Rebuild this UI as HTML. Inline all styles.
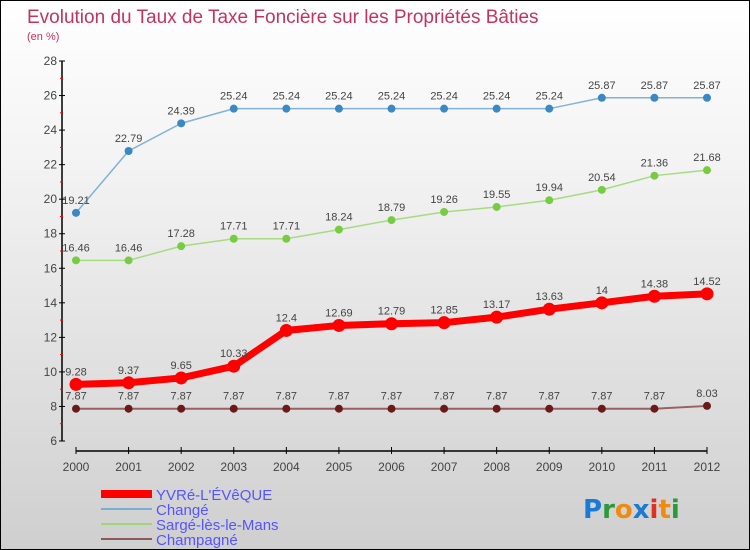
<!DOCTYPE html>
<html><head><meta charset="utf-8"><style>
body{margin:0}
#c{position:relative;width:748px;height:548px;border:1px solid #000;background:linear-gradient(#fff,#f3f3f3 30%,#cfcfcf);font-family:"Liberation Sans",sans-serif;overflow:hidden}
</style></head><body>
<div id="c">
<svg width="748" height="548" id="s">
<text x="26" y="22" font-size="19" fill="#c4335f">Evolution du Taux de Taxe Foncière sur les Propriétés Bâties</text>
<text x="26" y="39" font-size="11" fill="#c4335f">(en %)</text>
<g id="ax"></g><g id="ser"></g>
<g font-size="15" fill="#5555ff">
<rect x="100" y="489" width="51" height="8" fill="#f00"/>
<text x="155" y="499">YVRé-L'ÉVêQUE</text>
<rect x="100" y="507" width="51" height="2" fill="#7aaed0"/>
<text x="155" y="514">Changé</text>
<rect x="100" y="522" width="51" height="2" fill="#9ed67a"/>
<text x="155" y="529">Sargé-lès-le-Mans</text>
<rect x="100" y="537" width="51" height="2" fill="#8c5a5a"/>
<text x="155" y="544">Champagné</text>
</g>
<text x="582" y="517" font-size="26" font-family="'DejaVu Sans',sans-serif" font-weight="bold"><tspan fill="#1a7ad4">P</tspan><tspan fill="#2a9a3a">r</tspan><tspan fill="#f08a10">o</tspan><tspan fill="#1a7ad4">x</tspan><tspan fill="#e03020">i</tspan><tspan fill="#f08a10">t</tspan><tspan fill="#2a9a3a">i</tspan></text>
</svg></div>
<script>
const years=[2000,2001,2002,2003,2004,2005,2006,2007,2008,2009,2010,2011,2012];
const yvre=[9.28,9.37,9.65,10.33,12.4,12.69,12.79,12.85,13.17,13.63,14,14.38,14.52];
const change=[19.21,22.79,24.39,25.24,25.24,25.24,25.24,25.24,25.24,25.24,25.87,25.87,25.87];
const sarge=[16.46,16.46,17.28,17.71,17.71,18.24,18.79,19.26,19.55,19.94,20.54,21.36,21.68];
const champ=[7.87,7.87,7.87,7.87,7.87,7.87,7.87,7.87,7.87,7.87,7.87,7.87,8.03];
const yTicks=[6,8,10,12,14,16,18,20,22,24,26,28];
const NS="http://www.w3.org/2000/svg";
const X=i=>75+i*(706-75)/(years.length-1);
const Y=v=>440-(v-6)*(380/22);
function mk(t,a,p){const e=document.createElementNS(NS,t);for(const k in a)e.setAttribute(k,a[k]);p.appendChild(e);return e;}
const ax=document.getElementById('ax');
mk('line',{x1:61,y1:Y(28),x2:61,y2:Y(6),stroke:'#000','stroke-width':1.5},ax);
mk('line',{x1:75,y1:450,x2:706,y2:450,stroke:'#000','stroke-width':1.5},ax);
yTicks.forEach(v=>{
 mk('line',{x1:58,y1:Y(v),x2:64,y2:Y(v),stroke:'#000'},ax);
 if(v<28)mk('line',{x1:59,y1:Y(v+1),x2:62,y2:Y(v+1),stroke:'#f00'},ax);
 const t=mk('text',{x:56,y:Y(v)+4,'font-size':12,'text-anchor':'end',fill:'#444'},ax);
 
 
 t.textContent=v;
});
years.forEach((yr,i)=>{
 mk('line',{x1:X(i),y1:446,x2:X(i),y2:453,stroke:'#000'},ax);
 const t=mk('text',{x:X(i),y:470,'font-size':12,'text-anchor':'middle',fill:'#444'},ax);
 
 
 t.textContent=yr;
});
const ser=document.getElementById('ser');
function draw(name,d,col,dot,w,r){
 const g=mk('g',{},ser);
 
 
 const pl=mk('polyline',{points:d.map((v,i)=>X(i)+','+Y(v)).join(' '),fill:'none',stroke:col,'stroke-width':w},g);
 
 
 d.forEach((v,i)=>{
  const c=mk('circle',{cx:X(i),cy:Y(v),r:r,fill:dot},g);
  
  
  const t=mk('text',{x:X(i),y:Y(v)-9,'font-size':11,'text-anchor':'middle',fill:'#444'},g);
  
  
  t.textContent=v;
 });
}
draw('champagne',champ,'#9a6060','#6b1a1a',2,4);
draw('sarge',sarge,'#a6dc80','#77cc44',1.5,4);
draw('change',change,'#82b2d8','#3a88c4',1.5,4);
draw('yvre',yvre,'#f00','#f00',7,6.5);
</script>
</body></html>
